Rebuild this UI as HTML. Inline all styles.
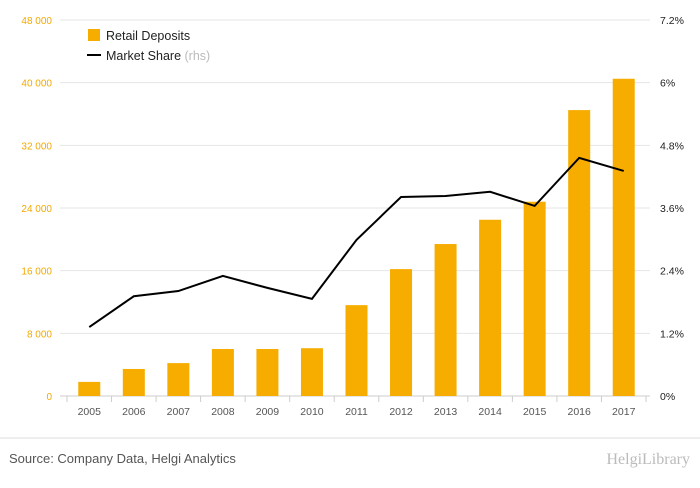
<!DOCTYPE html>
<html><head><meta charset="utf-8"><style>
body{margin:0;background:#fff;width:700px;height:483px;overflow:hidden;font-family:"Liberation Sans",sans-serif}
</style></head><body>
<svg id="c" width="700" height="483" xmlns="http://www.w3.org/2000/svg"></svg>
<script>
const years=["2005","2006","2007","2008","2009","2010","2011","2012","2013","2014","2015","2016","2017"];
const deposits=[1800,3450,4200,6000,6000,6100,11600,16200,19400,22500,24800,36500,40500];
const share=[1.32,1.91,2.01,2.30,2.07,1.86,2.99,3.81,3.83,3.91,3.64,4.56,4.31];
const leftTicks=[0,8000,16000,24000,32000,40000,48000];
const leftLabels=["0","8 000","16 000","24 000","32 000","40 000","48 000"];
const rightTicks=[0,1.2,2.4,3.6,4.8,6,7.2];
const rightLabels=["0%","1.2%","2.4%","3.6%","4.8%","6%","7.2%"];
const svg=document.getElementById('c');const NS="http://www.w3.org/2000/svg";
const y0=396,yTop=20,xL=67,xR=646;
const yL=v=>y0-(v/48000)*(y0-yTop);
const yR=v=>y0-(v/7.2)*(y0-yTop);
const step=(xR-xL)/years.length;
const xC=i=>xL+step*(i+0.5);
function mk(t,a,txt){const e=document.createElementNS(NS,t);for(const k in a)e.setAttribute(k,a[k]);if(txt!=null)e.textContent=txt;svg.appendChild(e);return e;}
leftTicks.forEach((v,i)=>{
 const g=mk('line',{x1:60,x2:650,y1:yL(v),y2:yL(v),stroke:i==0?'#ccc':'#e6e6e6','stroke-width':1});
 
 const t=mk('text',{x:52,y:yL(v)+4,'text-anchor':'end','font-size':10,fill:'#f2a900'},leftLabels[i]);
 
});
rightTicks.forEach((v,i)=>{
 const t=mk('text',{x:660,y:yR(v)+4,'font-size':10.5,fill:'#222'},rightLabels[i]);
 
});
for(let i=0;i<=years.length;i++){const l=mk('line',{x1:xL+step*i,x2:xL+step*i,y1:y0,y2:y0+6,stroke:'#ccc'});}
years.forEach((yr,i)=>{
 const b=mk('rect',{x:xC(i)-11,y:yL(deposits[i]),width:22,height:y0-yL(deposits[i]),fill:'#f7ad00'});
 
 const t=mk('text',{x:xC(i),y:415,'text-anchor':'middle','font-size':10.5,fill:'#555'},yr);
 
});
const p=mk('polyline',{points:share.map((v,i)=>xC(i)+','+yR(v)).join(' '),fill:'none',stroke:'#000','stroke-width':2});

let e=mk('rect',{x:88,y:29,width:12,height:12,fill:'#f7ad00'});
e=mk('text',{x:106,y:40,'font-size':12.5,fill:'#222'},'Retail Deposits');
e=mk('line',{x1:87,x2:101,y1:55,y2:55,stroke:'#000','stroke-width':2});
e=mk('text',{x:106,y:60,'font-size':12.5,fill:'#222'});
e.innerHTML='Market Share <tspan fill="#bbb">(rhs)</tspan>';
e=mk('line',{x1:0,x2:700,y1:438,y2:438,stroke:'#ddd'});
e=mk('text',{x:9,y:463,'font-size':13,fill:'#555'},'Source: Company Data, Helgi Analytics');
e=mk('text',{x:690,y:464,'text-anchor':'end','font-size':16,fill:'#bbb','font-family':'Liberation Serif, serif'},'HelgiLibrary');
</script>
</body></html>
